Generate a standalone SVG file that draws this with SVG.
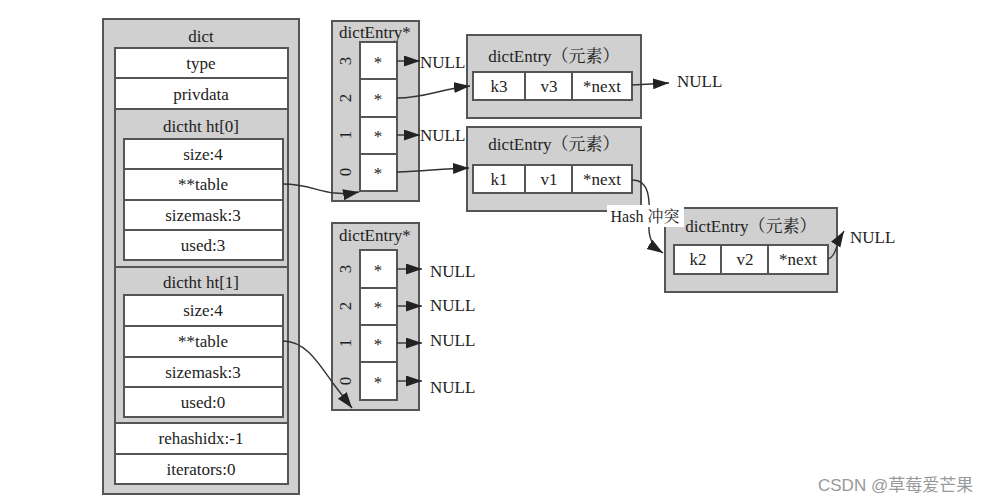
<svg xmlns="http://www.w3.org/2000/svg" width="1004" height="503" viewBox="0 0 1004 503">
<defs>
<style>
.box{fill:#d0d0d0;stroke:#555;stroke-width:2}
.cell{fill:#fff;stroke:#555;stroke-width:2}
.t{font-family:"Liberation Serif","Noto Serif CJK SC","Noto Sans CJK SC",serif;font-size:17px;fill:#222;text-anchor:middle}
.tl{font-family:"Liberation Serif","Noto Sans CJK SC",serif;font-size:17px;fill:#222}
.e{fill:none;stroke:#333;stroke-width:1.4;marker-end:url(#ah)}
.wm{font-family:"Liberation Sans","Noto Sans CJK SC",sans-serif;font-size:17px;fill:#999}
</style>
<marker id="ah" markerUnits="userSpaceOnUse" markerWidth="18" markerHeight="14" refX="16" refY="5.5" orient="auto">
<path d="M0,0 L16,5.5 L0,11 z" fill="#222"/>
</marker>
</defs>
<rect width="1004" height="503" fill="#fff"/>

<g id="dict">
<rect class="box" x="103" y="19" width="196" height="475"/>
<text class="t" x="201" y="42">dict</text>
<rect class="cell" x="115" y="48" width="173" height="30"/>
<text class="t" x="201" y="69">type</text>
<rect class="cell" x="115" y="78" width="173" height="31"/>
<text class="t" x="201" y="100">privdata</text>
</g>

<g id="ht0">
<rect class="box" x="115" y="109" width="173" height="158"/>
<text class="t" x="201" y="132">dictht ht[0]</text>
<rect class="cell" x="124" y="139" width="159" height="30"/>
<text class="t" x="203" y="160">size:4</text>
<rect class="cell" x="124" y="169" width="159" height="31"/>
<text class="t" x="203" y="190">**table</text>
<rect class="cell" x="124" y="200" width="159" height="30"/>
<text class="t" x="203" y="221">sizemask:3</text>
<rect class="cell" x="124" y="230" width="159" height="30"/>
<text class="t" x="203" y="251">used:3</text>
</g>

<g id="ht1">
<rect class="box" x="115" y="267" width="173" height="156"/>
<text class="t" x="201" y="288">dictht ht[1]</text>
<rect class="cell" x="124" y="295" width="159" height="31"/>
<text class="t" x="203" y="316">size:4</text>
<rect class="cell" x="124" y="326" width="159" height="31"/>
<text class="t" x="203" y="347">**table</text>
<rect class="cell" x="124" y="357" width="159" height="30"/>
<text class="t" x="203" y="378">sizemask:3</text>
<rect class="cell" x="124" y="387" width="159" height="30"/>
<text class="t" x="203" y="408">used:0</text>
</g>

<g id="dict-tail">
<rect class="cell" x="115" y="423" width="173" height="31"/>
<text class="t" x="201" y="444">rehashidx:-1</text>
<rect class="cell" x="115" y="454" width="173" height="30"/>
<text class="t" x="201" y="475">iterators:0</text>
</g>

<g id="table0">
<rect class="box" x="332" y="21" width="87" height="180"/>
<text class="t" x="375" y="38">dictEntry*</text>
<rect class="cell" x="360" y="42" width="37" height="37"/>
<rect class="cell" x="360" y="79" width="37" height="38"/>
<rect class="cell" x="360" y="117" width="37" height="37"/>
<rect class="cell" x="360" y="154" width="37" height="37"/>
<text class="t" x="378" y="68">*</text>
<text class="t" x="378" y="105">*</text>
<text class="t" x="378" y="142">*</text>
<text class="t" x="378" y="179">*</text>
<text class="t" transform="translate(351,61) rotate(-90)">3</text>
<text class="t" transform="translate(351,98) rotate(-90)">2</text>
<text class="t" transform="translate(351,135) rotate(-90)">1</text>
<text class="t" transform="translate(351,172) rotate(-90)">0</text>
</g>

<g id="table1">
<rect class="box" x="332" y="223" width="87" height="187"/>
<text class="t" x="375" y="241">dictEntry*</text>
<rect class="cell" x="360" y="250" width="37" height="38"/>
<rect class="cell" x="360" y="288" width="37" height="37"/>
<rect class="cell" x="360" y="325" width="37" height="37"/>
<rect class="cell" x="360" y="362" width="37" height="38"/>
<text class="t" x="378" y="276">*</text>
<text class="t" x="378" y="313">*</text>
<text class="t" x="378" y="350">*</text>
<text class="t" x="378" y="388">*</text>
<text class="t" transform="translate(351,269) rotate(-90)">3</text>
<text class="t" transform="translate(351,306) rotate(-90)">2</text>
<text class="t" transform="translate(351,343) rotate(-90)">1</text>
<text class="t" transform="translate(351,381) rotate(-90)">0</text>
</g>

<g id="entry-k3">
<rect class="box" x="467" y="35" width="174" height="83"/>
<text class="t" x="554" y="62">dictEntry（元素）</text>
<rect class="cell" x="473" y="72" width="52" height="28"/>
<rect class="cell" x="525" y="72" width="47" height="28"/>
<rect class="cell" x="572" y="72" width="60" height="28"/>
<text class="t" x="499" y="92">k3</text>
<text class="t" x="549" y="92">v3</text>
<text class="t" x="602" y="92">*next</text>
</g>

<g id="entry-k1">
<rect class="box" x="467" y="127" width="174" height="84"/>
<text class="t" x="554" y="150">dictEntry（元素）</text>
<rect class="cell" x="473" y="165" width="52" height="28"/>
<rect class="cell" x="525" y="165" width="47" height="28"/>
<rect class="cell" x="572" y="165" width="60" height="28"/>
<text class="t" x="499" y="185">k1</text>
<text class="t" x="549" y="185">v1</text>
<text class="t" x="602" y="185">*next</text>
</g>

<g id="entry-k2">
<rect class="box" x="665" y="208" width="172" height="84"/>
<text class="t" x="751" y="232">dictEntry（元素）</text>
<rect class="cell" x="674" y="245" width="47" height="29"/>
<rect class="cell" x="721" y="245" width="47" height="29"/>
<rect class="cell" x="768" y="245" width="60" height="29"/>
<text class="t" x="698" y="265">k2</text>
<text class="t" x="745" y="265">v2</text>
<text class="t" x="798" y="265">*next</text>
</g>

<g id="connectors">
<path class="e" d="M283,184 C315,184 325,198 359,192"/>
<path class="e" d="M283,341 C305,341 318,362 332,382 L352,408"/>
<path class="e" d="M397,61 L420,61"/>
<path class="e" d="M397,135 L420,135"/>
<path class="e" d="M397,98 C425,98 440,89 470,86"/>
<path class="e" d="M397,172 C425,171 440,169 469,168"/>
<path class="e" d="M397,269 L422,269"/>
<path class="e" d="M397,306 L422,306"/>
<path class="e" d="M397,343 L422,343"/>
<path class="e" d="M397,381 L422,381"/>
<path class="e" d="M632,85 L669,83"/>
<path class="e" d="M632,180 C650,180 650,200 649,222 C648,238 652,246 663,253"/>
<path class="e" d="M828,259 C836,257 836,244 844,231"/>
</g>

<g id="labels">
<text class="tl" x="420" y="68">NULL</text>
<text class="tl" x="420" y="141">NULL</text>
<text class="tl" x="430" y="277">NULL</text>
<text class="tl" x="430" y="311">NULL</text>
<text class="tl" x="430" y="346">NULL</text>
<text class="tl" x="430" y="393">NULL</text>
<text class="tl" x="677" y="87">NULL</text>
<text class="tl" x="850" y="243">NULL</text>
<rect x="607" y="205" width="77" height="22" fill="#fff"/>
<text class="t" x="645" y="222" style="font-size:16px">Hash 冲突</text>
</g>

<text class="wm" x="818" y="491">CSDN @草莓爱芒果</text>
</svg>
